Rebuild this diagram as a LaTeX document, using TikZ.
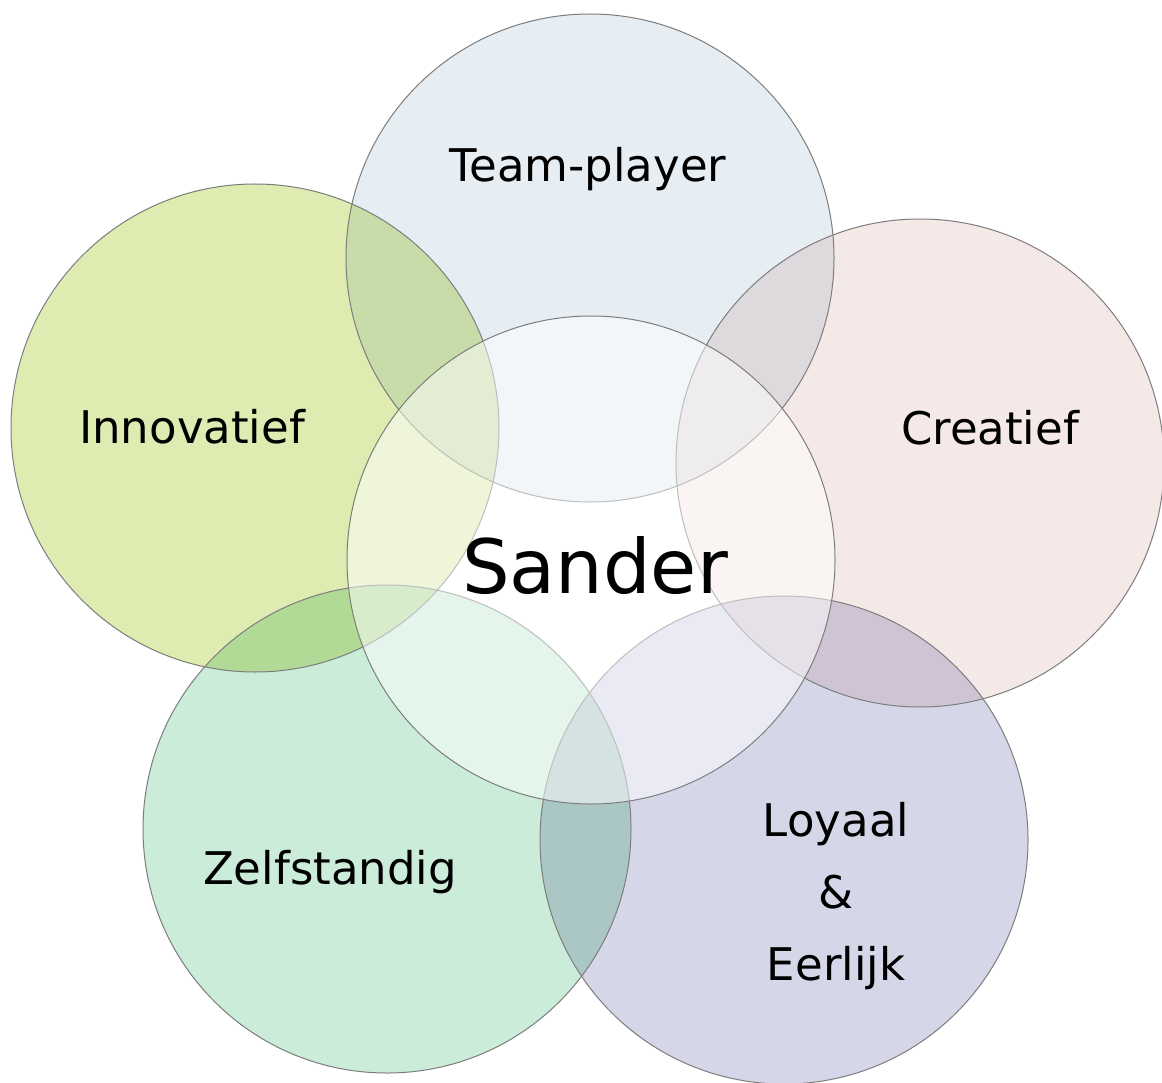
\documentclass[tikz,border=0pt]{standalone}
\usepackage{fontspec}
\setmainfont{DejaVu Sans}
\definecolor{teamc}{RGB}{230,238,243}
\definecolor{innovc}{RGB}{222,236,177}
\definecolor{creac}{RGB}{245,233,231}
\definecolor{zelfc}{RGB}{202,236,216}
\definecolor{loyc}{RGB}{214,214,233}
\definecolor{tiC}{RGB}{200,220,169}
\definecolor{tcC}{RGB}{221,217,220}
\definecolor{clC}{RGB}{206,196,211}
\definecolor{lzC}{RGB}{170,198,197}
\definecolor{ziC}{RGB}{176,218,150}
\definecolor{ringgray}{RGB}{125,125,125}
\begin{document}
\begin{tikzpicture}[x=1pt,y=-1pt,
  ring/.style={draw=ringgray, line width=1pt},
  lbl/.style={font=\fontsize{45}{72}\selectfont, text=black, inner sep=0pt},
  biglbl/.style={font=\fontsize{75}{90}\selectfont, text=black, inner sep=0pt}]
\useasboundingbox (0,0) rectangle (1162,1083);
\fill[white] (0,0) rectangle (1162,1083);
% centres
\coordinate (cT) at (590,258);
\coordinate (cI) at (255,428);
\coordinate (cC) at (920,463);
\coordinate (cS) at (591,560);
\coordinate (cZ) at (387,829);
\coordinate (cL) at (784,840);
\def\R{244pt}
% single fills
\fill[teamc] (cT) circle[radius=\R];
\fill[innovc] (cI) circle[radius=\R];
\fill[creac] (cC) circle[radius=\R];
\fill[zelfc] (cZ) circle[radius=\R];
\fill[loyc] (cL) circle[radius=\R];
% pairwise overlaps
\begin{scope}\clip (cT) circle[radius=\R]; \fill[tiC] (cI) circle[radius=\R];\end{scope}
\begin{scope}\clip (cT) circle[radius=\R]; \fill[tcC] (cC) circle[radius=\R];\end{scope}
\begin{scope}\clip (cC) circle[radius=\R]; \fill[clC] (cL) circle[radius=\R];\end{scope}
\begin{scope}\clip (cL) circle[radius=\R]; \fill[lzC] (cZ) circle[radius=\R];\end{scope}
\begin{scope}\clip (cZ) circle[radius=\R]; \fill[ziC] (cI) circle[radius=\R];\end{scope}
% outlines of outer circles
\foreach \c in {cT,cI,cC,cZ,cL} \draw[ring] (\c) circle[radius=\R];
% central circle
\fill[white, fill opacity=0.5] (cS) circle[radius=\R];
\draw[ring] (cS) circle[radius=\R];
% labels
\node[lbl, anchor=base] (tTeam) at (588,182) {Team-player};
\node[lbl, anchor=base] (tInnov) at (192,443) {Innovatief};
\node[lbl, anchor=base] (tCrea) at (990,444) {Creatief};
\node[biglbl, anchor=base] (tSander) at (595,593) {Sander};
\node[lbl, anchor=base] (tZelf) at (330,884) {Zelfstandig};
\node[lbl, align=center, anchor=north] (tLoy) at (836,802) {Loyaal\\\&\\Eerlijk};
\end{tikzpicture}
\end{document}
